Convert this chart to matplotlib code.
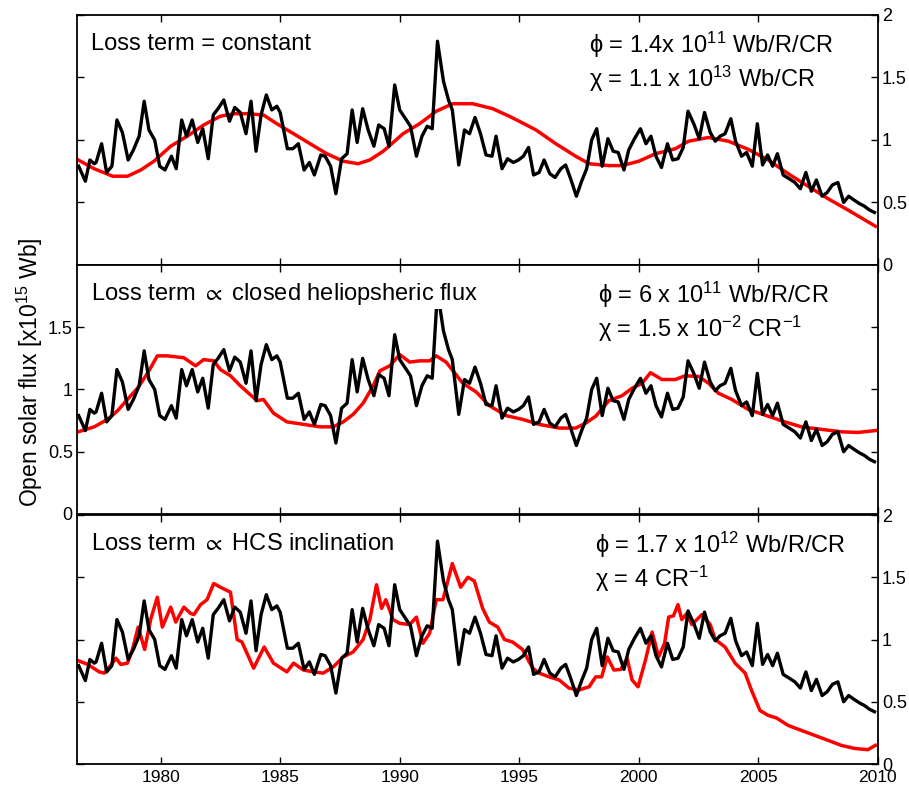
import numpy as np
import matplotlib
matplotlib.use("Agg")
import matplotlib.pyplot as plt

plt.rcParams['font.family'] = ['Liberation Sans', 'DejaVu Sans']
plt.rcParams['mathtext.fontset'] = 'custom'
plt.rcParams['mathtext.rm'] = 'Liberation Sans'
plt.rcParams['mathtext.it'] = 'Liberation Sans'
plt.rcParams['mathtext.default'] = 'regular'

# observed open solar flux (same in all panels)
obs_year = [1976.57, 1976.85, 1977.04, 1977.22, 1977.30, 1977.53, 1977.74, 1977.96, 1978.17, 1978.40,
            1978.64, 1978.86, 1979.10, 1979.31, 1979.51, 1979.75, 1979.96, 1980.18, 1980.45, 1980.65,
            1980.88, 1981.08, 1981.32, 1981.55, 1981.76, 1981.99, 1982.20, 1982.40, 1982.64, 1982.88,
            1983.10, 1983.33, 1983.57, 1983.78, 1983.99, 1984.20, 1984.42, 1984.65, 1984.86, 1985.00,
            1985.30, 1985.53, 1985.76, 1986.00, 1986.22, 1986.43, 1986.70, 1986.88, 1987.11, 1987.33,
            1987.57, 1987.80, 1988.01, 1988.22, 1988.45, 1988.68, 1988.92, 1989.12, 1989.35, 1989.55,
            1989.79, 1990.00, 1990.24, 1990.45, 1990.70, 1990.93, 1991.15, 1991.36, 1991.58, 1991.83,
            1992.04, 1992.20, 1992.47, 1992.71, 1992.92, 1993.15, 1993.38, 1993.61, 1993.86, 1994.03,
            1994.28, 1994.51, 1994.75, 1994.97, 1995.17, 1995.39, 1995.60, 1995.83, 1996.04, 1996.28,
            1996.50, 1996.74, 1996.94, 1997.15, 1997.39, 1997.61, 1997.82, 1998.03, 1998.24, 1998.47,
            1998.71, 1998.93, 1999.14, 1999.38, 1999.58, 1999.82, 2000.07, 2000.30, 2000.51, 2000.72,
            2000.95, 2001.20, 2001.42, 2001.64, 2001.86, 2002.06, 2002.30, 2002.53, 2002.75, 2002.99,
            2003.20, 2003.40, 2003.61, 2003.85, 2004.05, 2004.30, 2004.51, 2004.75, 2004.96, 2005.18,
            2005.39, 2005.60, 2005.80, 2006.04, 2006.29, 2006.53, 2006.76, 2006.99, 2007.22, 2007.43,
            2007.67, 2007.88, 2008.10, 2008.33, 2008.57, 2008.78, 2009.00, 2009.24, 2009.44, 2009.65,
            2009.86]
obs_flux = [0.79, 0.67, 0.84, 0.81, 0.82, 0.97, 0.74, 0.79, 1.16, 1.06,
            0.84, 0.92, 1.03, 1.31, 1.08, 1.00, 0.79, 0.76, 0.87, 0.77,
            1.16, 1.03, 1.16, 0.98, 1.09, 0.85, 1.20, 1.25, 1.32, 1.15,
            1.26, 1.22, 1.05, 1.31, 0.91, 1.20, 1.36, 1.24, 1.27, 1.22,
            0.93, 0.93, 0.97, 0.76, 0.82, 0.72, 0.88, 0.87, 0.79, 0.57,
            0.85, 0.89, 1.24, 0.98, 1.25, 1.08, 0.95, 1.12, 1.09, 0.95,
            1.44, 1.24, 1.17, 1.11, 0.87, 1.03, 1.11, 1.09, 1.79, 1.47,
            1.32, 1.24, 0.80, 1.08, 1.05, 1.18, 1.05, 0.88, 0.87, 1.03,
            0.77, 0.85, 0.82, 0.84, 0.87, 0.94, 0.72, 0.74, 0.84, 0.73,
            0.70, 0.77, 0.80, 0.69, 0.55, 0.67, 0.77, 1.00, 1.09, 0.79,
            1.01, 0.91, 0.90, 0.76, 0.92, 1.01, 1.09, 0.97, 1.03, 0.87,
            0.78, 0.97, 0.84, 0.85, 0.94, 1.23, 1.13, 1.01, 1.22, 1.06,
            0.99, 1.03, 1.05, 1.17, 0.99, 0.87, 0.90, 0.79, 1.13, 0.80,
            0.88, 0.79, 0.89, 0.72, 0.69, 0.66, 0.61, 0.74, 0.59, 0.68,
            0.55, 0.58, 0.64, 0.66, 0.50, 0.55, 0.52, 0.49, 0.47, 0.44,
            0.42]

# model 1: loss term = constant
m1_year = [1976.55, 1977.22, 1977.99, 1978.61, 1979.17, 1979.72, 1980.42, 1981.11, 1981.80, 1982.50,
           1983.06, 1983.61, 1984.30, 1984.86, 1985.56, 1986.25, 1986.95, 1987.64, 1988.26, 1988.75,
           1989.31, 1990.14, 1990.83, 1991.53, 1992.22, 1993.06, 1993.89, 1994.58, 1995.20, 1995.70,
           1996.53, 1997.36, 1997.92, 1998.75, 1999.30, 2000.00, 2000.70, 2001.53, 2002.08, 2002.92,
           2003.75, 2004.58, 2005.42, 2006.25, 2007.08, 2007.92, 2008.75, 2009.90]
m1_flux = [0.84, 0.77, 0.71, 0.71, 0.76, 0.83, 0.95, 1.03, 1.12, 1.19,
           1.21, 1.21, 1.20, 1.13, 1.05, 0.97, 0.89, 0.83, 0.81, 0.84,
           0.91, 1.05, 1.13, 1.23, 1.29, 1.29, 1.25, 1.19, 1.13, 1.08,
           0.97, 0.87, 0.81, 0.795, 0.795, 0.83, 0.89, 0.93, 0.99, 1.02,
           0.99, 0.925, 0.84, 0.73, 0.63, 0.53, 0.44, 0.31]

# model 2: loss term proportional to closed heliospheric flux
m2_year = [1976.55, 1977.22, 1977.78, 1978.20, 1978.61, 1979.03, 1979.45, 1979.86, 1980.28, 1980.97,
           1981.46, 1981.80, 1982.22, 1982.50, 1982.92, 1983.33, 1983.68, 1984.03, 1984.30, 1984.72,
           1985.28, 1985.97, 1986.67, 1987.22, 1987.64, 1988.05, 1988.47, 1988.89, 1989.17, 1989.58,
           1990.00, 1990.42, 1990.83, 1991.25, 1991.53, 1991.94, 1992.64, 1993.20, 1993.75, 1994.45,
           1995.14, 1995.83, 1996.67, 1997.36, 1997.78, 1998.20, 1998.75, 1999.30, 1999.72, 2000.14,
           2000.49, 2000.97, 2001.53, 2001.94, 2002.50, 2002.92, 2003.33, 2003.89, 2004.58, 2005.42,
           2006.11, 2006.80, 2007.64, 2008.47, 2009.17, 2009.90]
m2_flux = [0.66, 0.70, 0.76, 0.83, 0.92, 1.01, 1.13, 1.27, 1.27, 1.255,
           1.19, 1.24, 1.23, 1.16, 1.11, 1.03, 0.97, 0.91, 0.92, 0.81,
           0.74, 0.72, 0.70, 0.70, 0.74, 0.80, 0.89, 1.03, 1.15, 1.19,
           1.28, 1.22, 1.23, 1.23, 1.27, 1.22, 1.05, 0.98, 0.87, 0.79,
           0.76, 0.72, 0.69, 0.69, 0.73, 0.785, 0.91, 0.95, 1.01, 1.05,
           1.135, 1.08, 1.08, 1.11, 1.105, 1.05, 0.97, 0.92, 0.84, 0.785,
           0.74, 0.70, 0.68, 0.66, 0.655, 0.67]

# model 3: loss term proportional to HCS inclination
m3_year = [1976.55, 1976.95, 1977.43, 1977.64, 1977.92, 1978.13, 1978.33, 1978.61, 1978.82, 1979.06,
           1979.33, 1979.58, 1979.86, 1980.07, 1980.42, 1980.63, 1980.97, 1981.25, 1981.39, 1981.67,
           1981.94, 1982.22, 1982.50, 1982.92, 1983.20, 1983.40, 1983.61, 1983.89, 1984.33, 1984.72,
           1985.28, 1985.56, 1985.97, 1986.39, 1986.80, 1987.22, 1987.64, 1988.05, 1988.47, 1988.75,
           1989.03, 1989.24, 1989.42, 1989.72, 1990.00, 1990.42, 1990.70, 1990.97, 1991.25, 1991.53,
           1991.81, 1992.20, 1992.55, 1992.85, 1993.12, 1993.47, 1993.75, 1994.10, 1994.38, 1994.72,
           1995.14, 1995.56, 1995.83, 1996.25, 1996.67, 1997.08, 1997.50, 1997.92, 1998.20, 1998.45,
           1998.68, 1998.96, 1999.25, 1999.51, 1999.72, 1999.97, 2000.28, 2000.56, 2000.83, 2001.08,
           2001.25, 2001.45, 2001.64, 2001.80, 2002.01, 2002.22, 2002.64, 2002.99, 2003.20, 2003.61,
           2004.03, 2004.45, 2004.72, 2005.07, 2005.42, 2005.76, 2006.25, 2006.80, 2007.36, 2007.92,
           2008.47, 2009.03, 2009.58, 2009.90]
m3_flux = [0.83, 0.80, 0.74, 0.73, 0.795, 0.85, 0.80, 0.81, 0.92, 1.10,
           0.92, 1.16, 1.34, 1.10, 1.26, 1.14, 1.26, 1.21, 1.20, 1.28,
           1.32, 1.45, 1.42, 1.38, 1.00, 0.98, 0.89, 0.77, 0.94, 0.81,
           0.74, 0.81, 0.755, 0.74, 0.73, 0.78, 0.86, 0.90, 1.00, 1.16,
           1.44, 1.25, 1.32, 1.16, 1.13, 1.12, 1.18, 0.97, 1.05, 1.32,
           1.32, 1.61, 1.42, 1.50, 1.47, 1.25, 1.14, 1.10, 1.00, 0.98,
           0.92, 0.77, 0.73, 0.70, 0.675, 0.61, 0.595, 0.62, 0.70, 0.70,
           0.86, 0.755, 0.76, 0.85, 0.675, 0.62, 0.835, 1.06, 0.86, 0.97,
           1.18, 1.19, 1.28, 1.16, 1.21, 1.12, 1.20, 1.12, 1.00, 0.94,
           0.81, 0.73, 0.59, 0.43, 0.39, 0.37, 0.31, 0.27, 0.23, 0.19,
           0.15, 0.125, 0.115, 0.15]

titles = ['Loss term = constant',
          r'Loss term $\propto$ closed heliopsheric flux',
          r'Loss term $\propto$ HCS inclination']
phi_text = [r'$\phi$ = 1.4x 10$^{11}$ Wb/R/CR',
            r'$\phi$ = 6 x 10$^{11}$ Wb/R/CR',
            r'$\phi$ = 1.7 x 10$^{12}$ Wb/R/CR']
chi_text = [r'$\chi$ = 1.1 x 10$^{13}$ Wb/CR',
            r'$\chi$ = 1.5 x 10$^{-2}$ CR$^{-1}$',
            r'$\chi$ = 4 CR$^{-1}$']
models = [(m1_year, m1_flux), (m2_year, m2_flux), (m3_year, m3_flux)]

fig = plt.figure(figsize=(9.09, 7.87), dpi=100)
left, width = 0.0847, 0.881
bottoms = [0.6633, 0.3469, 0.0292]
heights = [0.3177, 0.3164, 0.3164]
phi_x = [0.639, 0.650, 0.647]

for i in range(3):
    ax = fig.add_axes([left, bottoms[i], width, heights[i]])
    ax.plot(obs_year, obs_flux, color='black', lw=2.4, zorder=3)
    ax.plot(models[i][0], models[i][1], color='red', lw=2.5, zorder=2)
    ax.set_xlim(1976.5, 2010)
    ax.set_ylim(0, 2)
    ax.set_xticks([1980, 1985, 1990, 1995, 2000, 2005, 2010])
    ax.set_yticks([0, 0.5, 1, 1.5, 2])
    ax.set_yticklabels(['0', '0.5', '1', '1.5', '2'])
    ax.tick_params(direction='in', top=True, right=True, length=5, width=1,
                   labelsize=13, pad=3)
    ax.tick_params(axis='x', pad=4.5, labelsize=12.5)
    if i == 1:
        ax.set_yticks([0, 0.5, 1, 1.5])
        ax.set_yticklabels(['0', '0.5', '1', '1.5'])
        ax.tick_params(labelleft=True, labelright=False)
    else:
        ax.tick_params(labelleft=False, labelright=True)
    if i < 2:
        ax.tick_params(labelbottom=False)
    for s in ax.spines.values():
        s.set_linewidth(1.3)
    # titles sit on a white box (hides the line under it, as in panel 2)
    ax.text(0.0175, 0.885, titles[i], transform=ax.transAxes, fontsize=17,
            va='center', ha='left', zorder=5,
            bbox=dict(facecolor='white', edgecolor='none', pad=1.5))
    ax.text(phi_x[i], 0.88, phi_text[i], transform=ax.transAxes, fontsize=17,
            va='center', ha='left')
    ax.text(phi_x[i], 0.745, chi_text[i], transform=ax.transAxes, fontsize=17,
            va='center', ha='left')

fig.text(0.033, 0.527, r'Open solar flux [x10$^{15}$ Wb]', rotation=90,
         fontsize=16.5, va='center', ha='center')

fig.savefig('out.png', dpi=100)
